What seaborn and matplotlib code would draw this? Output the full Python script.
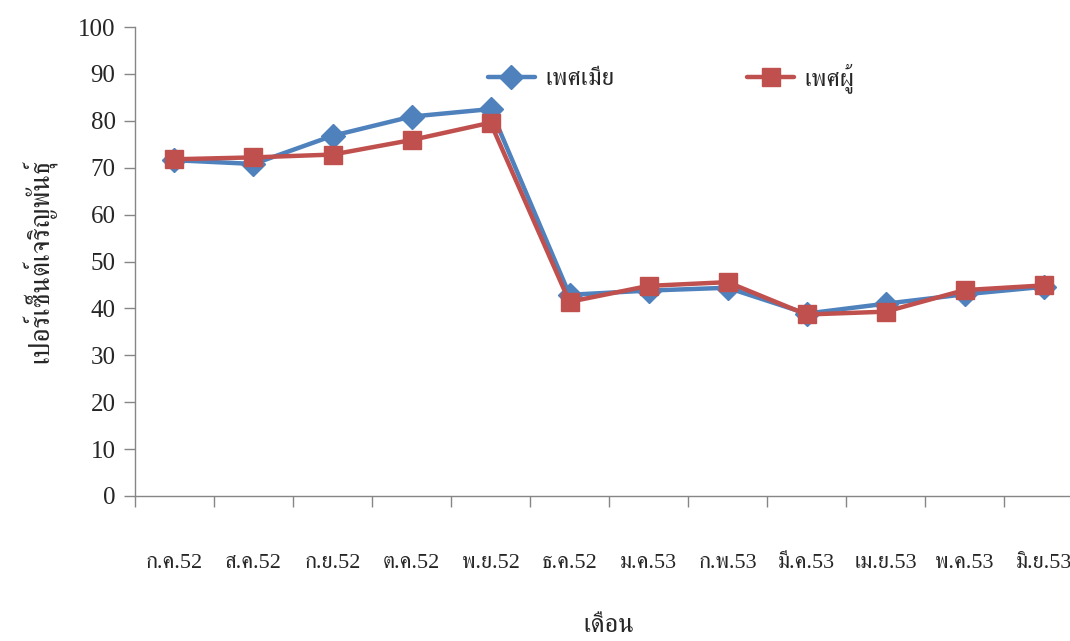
import numpy as np
import pandas as pd
import matplotlib
matplotlib.use("Agg")
import matplotlib.pyplot as plt
from matplotlib import font_manager, ft2font
from matplotlib.lines import Line2D
import seaborn as sns

# Monthly fertility percentages (July 2009 - June 2010, Thai Buddhist years)
months = ["ก.ค.52", "ส.ค.52", "ก.ย.52", "ต.ค.52", "พ.ย.52", "ธ.ค.52",
          "ม.ค.53", "ก.พ.53", "มี.ค.53", "เม.ย.53", "พ.ค.53", "มิ.ย.53"]
female = [71.6, 70.8, 76.8, 80.9, 82.5, 42.9, 43.8, 44.4, 38.9, 41.0, 43.0, 44.6]
male = [71.8, 72.2, 72.8, 75.9, 79.6, 41.4, 44.8, 45.6, 38.7, 39.3, 43.9, 44.9]
series_names = ["เพศเมีย", "เพศผู้"]
y_label = "เปอร์เซ็นต์เจริญพันธุ์"
x_label = "เดือน"
y_ticks = list(range(0, 101, 10))

sns.set_theme(style="white")


def find_thai_family():
    """Return an installed family that carries Thai glyphs, preferring serif faces."""
    found = []
    for f in font_manager.fontManager.ttflist:
        try:
            cmap = ft2font.FT2Font(f.fname).get_charmap()
        except Exception:
            continue
        if 0x0E01 in cmap and 0x0E40 in cmap:
            found.append(f.name)
    if not found:
        return None
    serif = [n for n in found if "Serif" in n]
    return (serif or found)[0]


thai = find_thai_family()
families = ["Liberation Serif"] + ([thai] if thai else []) + ["DejaVu Sans"]
plt.rcParams["font.family"] = families

df = pd.DataFrame({
    "pos": list(range(len(months))) * 2,
    "value": female + male,
    "sex": [series_names[0]] * len(months) + [series_names[1]] * len(months),
})

fig = plt.figure(figsize=(10.7, 6.41), dpi=100)
ax = fig.add_axes([135 / 1070, 1 - 496 / 641, 948 / 1070, 469 / 641])

colors = {series_names[0]: "#4F81BD", series_names[1]: "#C0504D"}
sns.lineplot(data=df, x="pos", y="value", hue="sex", style="sex",
             palette=colors, markers={series_names[0]: "D", series_names[1]: "s"},
             dashes=False, linewidth=3.2, markersize=12.5, sort=False, ax=ax,
             legend=False)
for ln in ax.lines:
    ln.set_markeredgecolor(ln.get_color())
    ln.set_markeredgewidth(1)
    ln.set_solid_joinstyle("round")
    ln.set_solid_capstyle("round")
# square markers a touch larger than the diamonds
ax.lines[1].set_markersize(13)

ax.set_xlim(-0.5, len(months) - 0.5)
ax.set_ylim(0, 100)
ax.set_yticks(y_ticks)
ax.set_yticklabels([str(t) for t in y_ticks], fontsize=18)
ax.set_xticks(range(len(months)))
ax.set_xticklabels(months, fontsize=16)
ax.set_xticks(np.arange(-0.5, len(months), 1.0), minor=True)
ax.tick_params(axis="x", which="major", length=0, pad=42)
ax.tick_params(axis="x", which="minor", length=8, width=1, color="#868686",
               direction="out", bottom=True)
ax.tick_params(axis="y", length=8, width=1, color="#868686", direction="out",
               left=True, pad=6)

for side in ["top", "right"]:
    ax.spines[side].set_visible(False)
for side in ["left", "bottom"]:
    ax.spines[side].set_color("#868686")
    ax.spines[side].set_linewidth(1)

ax.set_xlabel(x_label, fontsize=19, labelpad=30)
ax.set_ylabel(y_label, fontsize=20, labelpad=16)
ax.grid(False)

handles = [Line2D([0], [0], color=colors[n], lw=3.2, marker=m, markersize=ms,
                  markeredgecolor=colors[n])
           for n, m, ms in zip(series_names, ["D", "s"], [12.5, 13])]
fig.legend(handles, series_names, loc="center", bbox_to_anchor=(0.627, 0.878),
           ncol=2, frameon=False, fontsize=18, handlelength=1.9,
           handletextpad=0.4, columnspacing=5.3)

fig.savefig("out.png", dpi=100)
